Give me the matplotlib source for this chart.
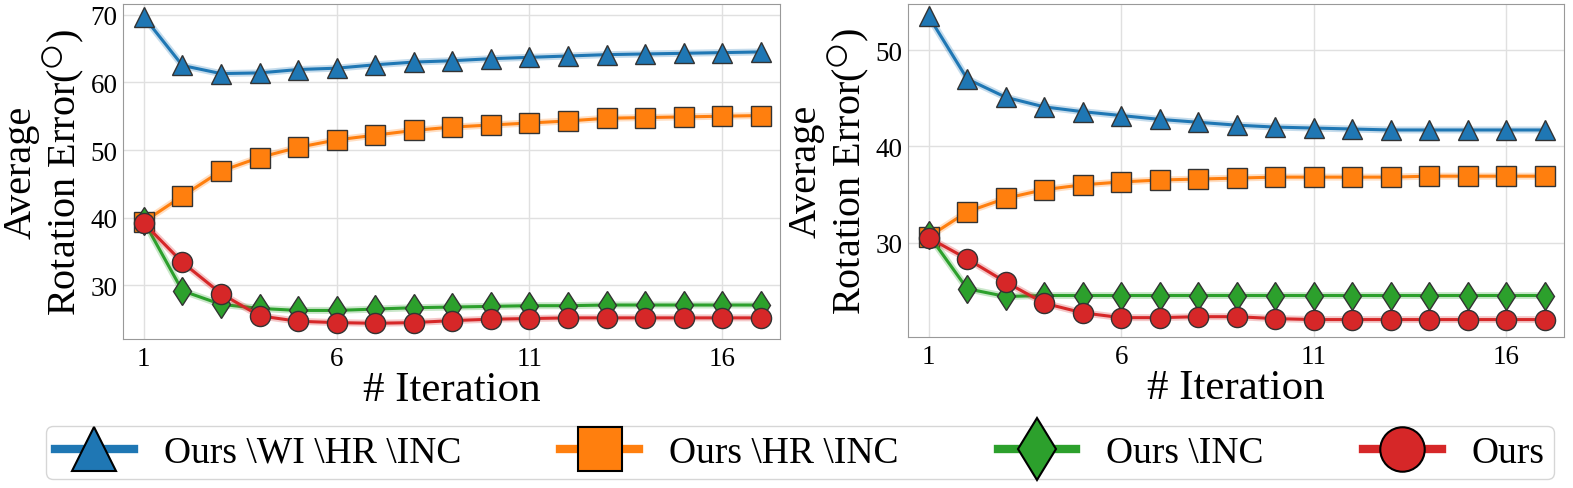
import matplotlib
matplotlib.use("Agg")
import matplotlib.pyplot as plt
from matplotlib.lines import Line2D

plt.rcParams['font.family'] = ['Liberation Serif', 'DejaVu Serif']
plt.rcParams['mathtext.fontset'] = 'stix'

iters = list(range(1, 18))

# left panel
left_wi_hr_inc = [69.7, 62.5, 61.3, 61.4, 61.9, 62.1, 62.6, 63.0, 63.2, 63.5, 63.7, 63.9, 64.1, 64.2, 64.3, 64.4, 64.5]
left_hr_inc = [39.4, 43.2, 46.9, 48.9, 50.4, 51.5, 52.2, 52.9, 53.4, 53.7, 54.0, 54.3, 54.7, 54.8, 54.9, 55.0, 55.1]
left_inc = [39.5, 29.2, 27.2, 26.6, 26.3, 26.3, 26.5, 26.7, 26.8, 26.9, 27.0, 27.0, 27.1, 27.1, 27.1, 27.1, 27.1]
left_ours = [39.2, 33.4, 28.8, 25.5, 24.7, 24.5, 24.4, 24.5, 24.8, 25.0, 25.1, 25.2, 25.2, 25.2, 25.2, 25.2, 25.2]

# right panel
right_wi_hr_inc = [53.5, 47.0, 45.1, 44.1, 43.6, 43.2, 42.8, 42.5, 42.2, 42.0, 41.9, 41.8, 41.7, 41.7, 41.7, 41.7, 41.7]
right_hr_inc = [30.6, 33.2, 34.6, 35.5, 36.0, 36.3, 36.5, 36.6, 36.7, 36.8, 36.8, 36.8, 36.8, 36.9, 36.9, 36.9, 36.9]
right_inc = [30.8, 25.2, 24.4, 24.5, 24.5, 24.5, 24.5, 24.5, 24.5, 24.5, 24.5, 24.5, 24.5, 24.5, 24.5, 24.5, 24.5]
right_ours = [30.5, 28.3, 25.9, 23.7, 22.7, 22.2, 22.2, 22.3, 22.3, 22.1, 22.0, 22.0, 22.0, 22.0, 22.0, 22.0, 22.0]

labels = ['Ours \\WI \\HR \\INC', 'Ours \\HR \\INC', 'Ours \\INC', 'Ours']
colors = ['#1f77b4', '#ff7f0e', '#2ca02c', '#d62728']
markers = ['^', 's', 'd', 'o']

fig = plt.figure(figsize=(15.73, 4.89), dpi=100)
ax1 = fig.add_axes([0.0782, 0.305, 0.4177, 0.685])
ax2 = fig.add_axes([0.5772, 0.309, 0.4170, 0.681])


def draw(ax, series, ylim, yticks):
    for vals, c, m in zip(series, colors, markers):
        ax.plot(iters, vals, color=c, lw=5, alpha=0.25, solid_capstyle='butt')
        ax.plot(iters, vals, color=c, lw=2.2, marker=m, markersize=14.5,
                markeredgecolor='#333333', markeredgewidth=1.0)
    ax.set_xlim(0.46, 17.5)
    ax.set_ylim(*ylim)
    ax.set_xticks([1, 6, 11, 16])
    ax.set_yticks(yticks)
    ax.tick_params(labelsize=19.5, length=0)
    ax.tick_params(axis='y', pad=4)
    ax.tick_params(axis='x', pad=5)
    ax.grid(True, color='#e0e0e0', lw=1)
    ax.set_axisbelow(True)
    for s in ax.spines.values():
        s.set_color('#999999')
    ax.set_xlabel('# Iteration', fontsize=31, labelpad=0)
    ax.set_ylabel('Average\nRotation Error($^{\\bigcirc}$)', fontsize=29, labelpad=3, linespacing=1.05)


draw(ax1, [left_wi_hr_inc, left_hr_inc, left_inc, left_ours], (22.1, 71.6), [30, 40, 50, 60, 70])
draw(ax2, [right_wi_hr_inc, right_hr_inc, right_inc, right_ours], (20.2, 54.8), [30, 40, 50])

handles = [Line2D([], [], color=c, lw=6, marker=m, markersize=32,
                  markeredgecolor='black', markeredgewidth=1.5)
           for c, m in zip(colors, markers)]
fig.legend(handles, labels, loc='lower left', bbox_to_anchor=(0.029, 0.018, 0.959, 0.137), ncol=4,
           fontsize=27, frameon=True, edgecolor='#cccccc', fancybox=True,
           handlelength=2.1, handletextpad=0.8, borderpad=0.25, borderaxespad=0,
           mode='expand', bbox_transform=fig.transFigure)

fig.savefig('out.png', dpi=100)
